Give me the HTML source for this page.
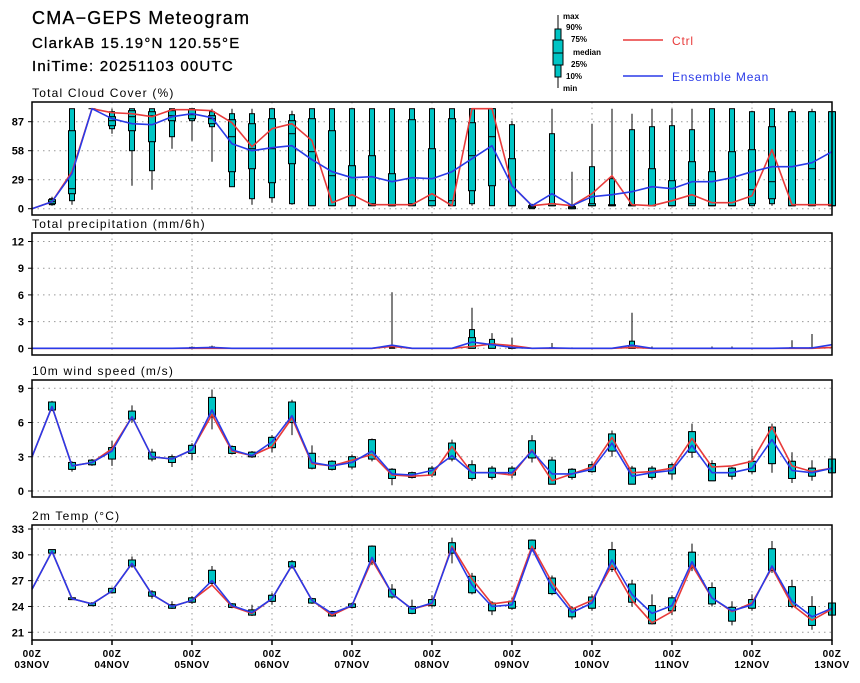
<!DOCTYPE html>
<html><head><meta charset="utf-8"><style>
body{margin:0;background:#fff;}
svg text{font-family:"Liberation Sans",sans-serif;}
</style></head><body>
<svg id="chart" width="860" height="678" xmlns="http://www.w3.org/2000/svg">
<g>
<text x="32" y="24" font-size="18" letter-spacing="1.2" stroke="#000" stroke-width="0.3">CMA−GEPS Meteogram</text>
<text x="32" y="48" font-size="15" letter-spacing="1.2" stroke="#000" stroke-width="0.3">ClarkAB  15.19°N  120.55°E</text>
<text x="32" y="71" font-size="15" letter-spacing="1.2" stroke="#000" stroke-width="0.3">IniTime: 20251103 00UTC</text>
</g>
<g>
<line x1="558" y1="15" x2="558" y2="88" stroke="#000" stroke-width="1"/>
<rect x="555" y="29" width="6" height="48" fill="#00c4c4" stroke="#000"/>
<rect x="553" y="40" width="10" height="25" fill="#00c4c4" stroke="#000"/>
<line x1="553" y1="53" x2="563" y2="53" stroke="#000"/>
<g font-size="8" font-weight="bold">
<text x="563" y="19">max</text><text x="566" y="30">90%</text><text x="571" y="42">75%</text>
<text x="573" y="55">median</text><text x="571" y="67">25%</text><text x="566" y="79">10%</text><text x="563" y="91">min</text></g>
<line x1="623" y1="40" x2="663" y2="40" stroke="#e83a3a" stroke-width="1.5"/>
<text x="672" y="45" font-size="12" fill="#e83a3a" letter-spacing="0.8">Ctrl</text>
<line x1="623" y1="76" x2="663" y2="76" stroke="#2a3ae8" stroke-width="1.5"/>
<text x="672" y="81" font-size="12" fill="#2a3ae8" letter-spacing="0.8">Ensemble Mean</text>
</g>
</svg>
<script>
// ---- data (index 0..40, 6-hourly from 00Z 03NOV) ----
const dayLabels = ["03NOV","04NOV","05NOV","06NOV","07NOV","08NOV","09NOV","10NOV","11NOV","12NOV","13NOV"];
const cloudTicks = [0,29,58,87];
const cloudCtrl = [0,7,37,100,96,95,92,99,99,98,86,62,80,85,68,6,14,4,4,4,15,3,100,100,23,3,5,3,15,33,4,3,8,14,6,6,13,59,4,4,4];
const cloudMean = [0,7,35,100,90,85,84,92,95,91,65,58,61,63,49,37,31,32,27,31,30,37,50,63,23,3,15,3,12,14,17,22,20,27,27,31,37,42,42,46,57];
const cloudMin = [null,3,4,100,75,23,19,60,68,47,22,4,6,4,3,3,3,3,3,3,3,3,3,3,3,0,3,0,3,3,3,3,3,3,3,3,3,3,3,3,3];
const cloudP10 = [null,4,8,100,80,58,38,72,88,82,22,10,11,5,3,3,3,3,3,3,3,3,5,3,3,0,3,0,3,3,3,3,3,3,3,3,3,5,3,3,3];
const cloudP25 = [null,5,15,100,83,78,67,88,90,85,37,40,26,45,3,3,3,3,3,3,3,3,18,23,3,1,3,0,3,3,3,3,3,3,3,3,5,10,3,3,3];
const cloudMed = [null,7,20,100,88,92,93,93,94,90,72,60,60,75,57,33,3,5,3,5,8,8,53,72,3,2,3,1,3,3,3,3,3,5,3,3,19,27,3,40,3];
const cloudP75 = [null,9,78,100,92,98,97,98,99,93,89,85,90,88,90,78,43,53,35,89,60,90,86,100,50,3,5,2,5,4,4,40,28,47,37,57,59,82,97,97,97];
const cloudP90 = [null,10,100,100,97,100,100,100,100,97,95,95,100,94,100,100,100,100,100,100,100,100,100,100,84,4,75,3,42,30,79,82,83,79,100,100,97,100,97,97,97];
const cloudMax = [null,12,100,100,100,100,100,100,100,100,100,100,100,98,100,100,100,100,100,100,100,100,100,100,88,5,100,37,85,100,95,100,100,100,100,100,98,100,100,100,100];

const precTicks = [0,3,6,9,12];
const precCtrl = [0,0,0,0,0,0,0,0,0,0,0,0,0,0,0,0,0,0,0.2,0,0,0,0.2,0.5,0.3,0,0,0,0,0,0.1,0,0,0,0,0,0,0,0,0,0.1];
const precMean = [0,0,0,0,0,0,0,0,0.05,0.1,0,0,0,0,0,0,0,0,0.35,0,0,0,0.7,0.4,0.1,0,0.05,0,0,0,0.35,0,0,0,0,0,0,0,0.05,0.05,0.4];
const precMed = [0,0,0,0,0,0,0,0,0,0,0,0,0,0,0,0,0,0,0,0,0,0,0.6,0.2,0,0,0,0,0,0,0.1,0,0,0,0,0,0,0,0,0,0];
const precP75 = [0,0,0,0,0,0,0,0,0,0.05,0,0,0,0,0,0,0,0,0,0,0,0,1.2,0.5,0.05,0,0,0,0,0,0.3,0,0,0,0,0,0,0,0,0,0];
const precP90 = [0,0,0,0,0,0,0,0,0.1,0.15,0,0,0,0,0,0,0,0,0.1,0,0,0,2.1,1.0,0.1,0,0.05,0,0,0,0.8,0,0,0,0,0,0,0,0.05,0.05,0];
const precMax = [0,0,0,0,0,0,0,0,0.2,0.3,0,0,0,0,0,0,0,0,6.3,0,0,0,4.55,1.7,1.2,0,0.6,0.1,0,0,4.0,0.2,0,0,0.2,0.2,0,0,0.9,1.6,0];

const windTicks = [0,3,6,9];
const windCtrl = [3.0,7.4,2.2,2.5,3.7,6.5,3.0,2.8,3.6,6.7,3.5,3.1,3.9,6.4,2.4,2.2,2.7,3.2,1.4,1.3,1.4,3.9,1.6,1.6,1.4,3.6,0.9,1.5,2.1,4.7,1.6,1.7,2.0,4.6,2.1,2.2,2.6,5.6,2.2,1.7,2.0];
const windMean = [3.0,7.4,2.2,2.5,3.5,6.5,3.0,2.8,3.6,7.1,3.6,3.1,4.3,6.6,2.5,2.2,2.5,3.5,1.5,1.4,1.8,3.1,1.6,1.6,1.6,3.5,1.5,1.5,1.9,4.2,1.3,1.6,1.8,4.0,1.6,1.6,2.0,4.5,1.8,1.6,2.0];
const windMin = [null,7.0,1.7,2.2,2.2,6.0,2.6,2.1,2.7,5.4,3.2,2.9,3.4,4.9,1.9,1.8,1.9,2.6,0.5,1.1,1.2,2.6,0.9,1.0,1.1,2.5,0.6,1.0,1.6,3.0,0.6,1.0,1.0,2.9,0.9,1.0,1.5,1.6,0.7,0.9,1.6];
const windQ1 = [null,7.1,1.9,2.3,2.8,6.3,2.8,2.5,3.3,6.5,3.3,3.0,3.8,6.0,2.0,1.9,2.1,2.8,1.1,1.2,1.4,2.8,1.1,1.2,1.4,2.9,0.6,1.2,1.7,3.5,0.6,1.2,1.5,3.4,0.9,1.3,1.7,2.4,1.1,1.3,1.6];
const windQ3 = [null,7.8,2.5,2.7,3.8,7.0,3.4,3.0,4.0,8.2,3.9,3.4,4.7,7.8,3.3,2.6,3.0,4.5,1.9,1.6,2.0,4.2,2.3,2.0,2.0,4.4,2.7,1.9,2.3,5.0,2.0,2.0,2.3,5.2,2.4,2.0,2.6,5.6,2.6,2.0,2.8];
const windMax = [null,7.9,2.6,2.8,4.4,7.5,3.7,3.2,4.2,8.9,4.0,3.5,4.9,8.0,4.0,2.7,3.2,4.6,2.0,1.7,2.2,4.5,2.7,2.2,2.2,4.9,3.0,2.0,2.6,5.3,2.2,2.2,2.5,5.9,2.7,2.1,3.7,5.9,3.4,2.7,2.8];

const tempTicks = [21,24,27,30,33];
const tempCtrl = [26.0,30.4,24.9,24.3,25.8,29.0,25.4,24.0,24.7,26.5,24.0,23.2,24.9,28.8,24.7,23.0,24.1,29.4,25.5,23.7,24.3,31.0,27.2,24.3,24.6,31.0,26.8,23.7,24.7,28.8,24.7,22.1,23.4,28.8,25.0,23.4,24.4,28.5,24.2,22.4,23.7];
const tempMean = [26.0,30.4,24.9,24.3,25.8,29.0,25.4,24.0,24.7,27.0,24.1,23.3,24.9,28.8,24.7,23.2,24.1,29.7,25.5,23.7,24.4,30.8,26.5,24.0,24.2,30.7,26.2,23.3,24.4,29.4,25.4,23.2,24.1,29.2,25.0,23.5,24.2,28.7,24.6,22.8,23.8];
const tempMin = [null,30.2,24.8,24.1,25.5,28.5,24.9,23.7,24.3,26.4,23.8,22.9,24.2,28.4,24.3,22.8,23.8,28.8,24.9,23.1,23.9,29.0,25.4,23.0,23.6,30.4,25.3,22.5,23.5,28.0,24.0,21.9,23.0,28.1,24.0,21.8,23.5,27.9,23.8,21.3,23.0];
const tempQ1 = [null,30.2,24.8,24.1,25.6,28.7,25.2,23.8,24.5,26.7,23.9,23.0,24.6,28.6,24.4,22.9,23.9,29.2,25.1,23.2,24.1,30.2,25.6,23.5,23.8,30.7,25.5,22.8,23.8,28.3,24.5,22.0,23.5,28.6,24.3,22.3,23.8,28.2,24.0,21.8,23.0];
const tempQ3 = [null,30.6,25.0,24.4,26.1,29.4,25.7,24.2,25.0,28.2,24.3,23.6,25.3,29.2,24.9,23.4,24.3,31.0,26.0,24.0,24.8,31.4,27.5,24.4,24.6,31.7,27.3,23.8,25.1,30.6,26.6,24.1,25.0,30.3,26.2,23.9,24.8,30.7,26.3,24.0,24.4];
const tempMax = [null,30.6,25.0,24.5,26.2,29.8,25.9,24.6,25.2,28.7,24.4,24.2,25.6,29.4,25.0,23.5,24.4,31.1,26.6,24.8,25.3,32.0,27.9,24.6,25.0,31.8,27.6,24.0,25.4,31.5,27.1,25.4,25.3,31.3,26.8,24.6,25.4,31.6,27.1,25.2,24.4];

// ---- layout ----
const svg = document.getElementById('chart');
const NS = 'http://www.w3.org/2000/svg';
const X0 = 32, X1 = 832, NSTEP = 40;
const xAt = i => X0 + (X1 - X0) * i / NSTEP;
const TEAL = '#00c4c4', RED = '#e83a3a', BLUE = '#2a3ae8';

function mk(tag, attrs, parent) {
  const el = document.createElementNS(NS, tag);
  for (const k in attrs) el.setAttribute(k, attrs[k]);
  (parent || svg).appendChild(el);
  return el;
}

function panel(name, title, top, bottom, vmin, vmax, ticks, scaleTop, scaleBottom) {
  const y = v => scaleBottom - (v - vmin) / (vmax - vmin) * (scaleBottom - scaleTop);
  const g = mk('g', {});
  
  
  const t = mk('text', {x: 32, y: top - 5, 'font-size': 12, 'letter-spacing': 1.2}, g);
  
  
  t.textContent = title;
  for (let d = 1; d < dayLabels.length - 1; d++) {
    const gl = mk('line', {x1: xAt(d*4), x2: xAt(d*4), y1: top, y2: bottom, stroke: '#999', 'stroke-width': 1, 'stroke-dasharray': '1.5,4'}, g);
    
    
  }
  ticks.forEach(v => {
    const yy = y(v);
    const gl = mk('line', {x1: X0, x2: X1, y1: yy, y2: yy, stroke: '#999', 'stroke-width': 1, 'stroke-dasharray': '1.5,4'}, g);
    
    
    const tk = mk('line', {x1: X0 - 4, x2: X0, y1: yy, y2: yy, stroke: '#000', 'stroke-width': 1}, g);
    
    
    const tl = mk('text', {x: 24, y: yy + 4, 'font-size': 11, 'font-weight': 'bold', 'text-anchor': 'end'}, g);
    
    
    tl.textContent = v;
  });
  return {g, y, top, bottom};
}

function frame(p, name) {
  const f = mk('rect', {x: X0, y: p.top, width: X1 - X0, height: p.bottom - p.top, fill: 'none', stroke: '#000', 'stroke-width': 1.5}, p.g);
  
  
}

function boxes(p, name, mn, p10, p25, med, p75, p90, mx) {
  for (let i = 0; i <= NSTEP; i++) {
    if (mn[i] === null || mn[i] === undefined) continue;
    const x = xAt(i);
    const bg = mk('g', {}, p.g);
    
    
    mk('line', {x1: x, x2: x, y1: p.y(mx[i]), y2: p.y(mn[i]), stroke: '#000', 'stroke-width': 1}, bg);
    const a = p.y(p90[i]), b = p.y(p10[i]);
    if (b - a > 0.3) mk('rect', {x: x - 2.5, y: a, width: 5, height: b - a, fill: TEAL, stroke: '#000', 'stroke-width': 1}, bg);
    const c = p.y(p75[i]), d = p.y(p25[i]);
    if (d - c > 0.3) mk('rect', {x: x - 3.5, y: c, width: 7, height: d - c, fill: TEAL, stroke: '#000', 'stroke-width': 1}, bg);
    if (med) mk('line', {x1: x - 3.5, x2: x + 3.5, y1: p.y(med[i]), y2: p.y(med[i]), stroke: '#000', 'stroke-width': 1}, bg);
  }
}

function series(p, name, vals, color) {
  const pts = vals.map((v, i) => xAt(i).toFixed(1) + ',' + p.y(v).toFixed(1)).join(' ');
  const l = mk('polyline', {points: pts, fill: 'none', stroke: color, 'stroke-width': 1.6, 'stroke-linejoin': 'round'}, p.g);
  
  
}

const pc = panel('cloud-cover', 'Total Cloud Cover (%)', 102, 215, 0, 87, cloudTicks, 121.7, 208.7);
boxes(pc, 'cloud', cloudMin, cloudP10, cloudP25, cloudMed, cloudP75, cloudP90, cloudMax);
series(pc, 'cloud-ctrl-line', cloudCtrl, RED);
series(pc, 'cloud-mean-line', cloudMean, BLUE);
frame(pc, 'cloud-cover');

const zeros = precMax.map(() => 0);
const pp = panel('precipitation', 'Total precipitation (mm/6h)', 233, 355, 0, 12, precTicks, 241.5, 348.3);
boxes(pp, 'precip', zeros, zeros, zeros, null, precP75, precP90, precMax);
series(pp, 'precip-ctrl-line', precCtrl, RED);
series(pp, 'precip-mean-line', precMean, BLUE);
frame(pp, 'precipitation');

const pw = panel('wind-speed', '10m wind speed (m/s)', 380, 497, 0, 9, windTicks, 388.3, 491);
boxes(pw, 'wind', windMin, windQ1, windQ1, null, windQ3, windQ3, windMax);
series(pw, 'wind-ctrl-line', windCtrl, RED);
series(pw, 'wind-mean-line', windMean, BLUE);
frame(pw, 'wind-speed');

const pt = panel('temperature', '2m Temp (°C)', 525, 640, 21, 33, tempTicks, 529, 632.3);
boxes(pt, 'temp', tempMin, tempQ1, tempQ1, null, tempQ3, tempQ3, tempMax);
series(pt, 'temp-ctrl-line', tempCtrl, RED);
series(pt, 'temp-mean-line', tempMean, BLUE);
frame(pt, 'temperature');

dayLabels.forEach((lab, d) => {
  const x = xAt(d * 4);
  const tk = mk('line', {x1: x, x2: x, y1: 640, y2: 645, stroke: '#000', 'stroke-width': 1.5});
  
  
  const t1 = mk('text', {x: x, y: 657, 'font-size': 10, 'font-weight': 'bold', 'text-anchor': 'middle', 'letter-spacing': 0.5});
  
  
  t1.textContent = '00Z';
  const t2 = mk('text', {x: x, y: 668, 'font-size': 10, 'font-weight': 'bold', 'text-anchor': 'middle', 'letter-spacing': 0.5});
  
  
  t2.textContent = lab;
});
</script>
</body></html>
